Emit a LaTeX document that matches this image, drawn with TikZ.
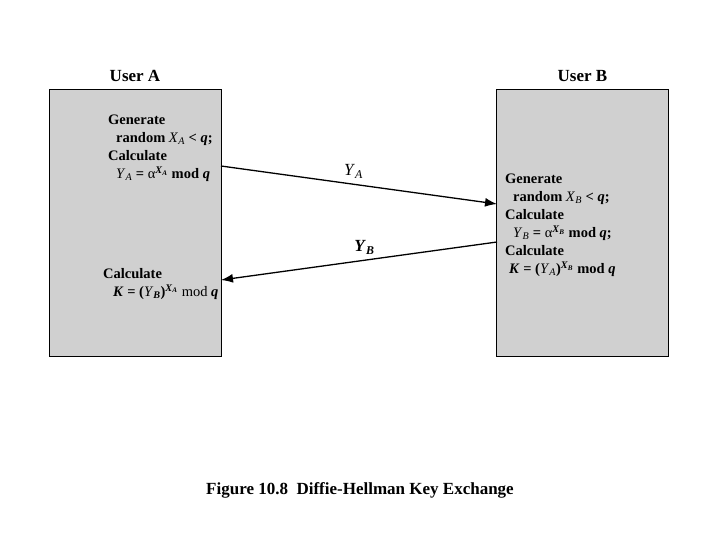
\documentclass[tikz,border=0pt]{standalone}
\usepackage{fontspec}
\setmainfont{Liberation Serif}
\usepackage{tikz}
\usetikzlibrary{arrows.meta,positioning}
\definecolor{dhgray}{HTML}{D0D0D0}
\newcommand{\itv}[2]{\textit{#1}\textsubscript{\textit{#2}}}
\newcommand{\plainv}[2]{{\mdseries\itv{#1}{#2}}}

\begin{document}
\begin{tikzpicture}[
  x=1pt,y=-1pt,
  user/.style={draw,line width=1pt,fill=dhgray,minimum width=172pt,minimum height=266pt,inner sep=0pt},
  head/.style={font=\fontsize{17}{20}\selectfont\bfseries},
  steps/.style={align=left,anchor=north west,inner sep=0pt,font=\fontsize{14.5}{18}\selectfont\bfseries},
  msg/.style={line width=1.3pt,-{Latex[length=12pt,width=9pt]}},
  lab/.style={font=\fontsize{17}{17}\selectfont}
]
\useasboundingbox (0,0) rectangle (720,540);
% the two parties
\node[user] (boxA) at (135,223) {};
\node[user] (boxB) at (582.5,223) {};
\node[head,above=4pt of boxA] (userA) {User A};
\node[head,above=4pt of boxB] (userB) {User B};

% what each one computes
\node[steps] (stepsA) at (108,115) {Generate\\
\hspace*{8pt}random \plainv{X}{A} < \textit{q};\\
Calculate\\
\hspace*{8pt}\plainv{Y}{A} = {\mdseries α}\textsuperscript{\itv{X}{A}} mod \textit{q}};
\node[steps] (keyA) at (103,268) {Calculate\\
\hspace*{10pt}\textit{K} = ({\mdseries\textit{Y}}\textsubscript{\textit{B}})\textsuperscript{\itv{X}{A}} {\mdseries mod} \textit{q}};
\node[steps] (stepsB) at (505,174) {Generate\\
\hspace*{8pt}random \plainv{X}{B} < \textit{q};\\
Calculate\\
\hspace*{8pt}\plainv{Y}{B} = {\mdseries α}\textsuperscript{\itv{X}{B}} mod \textit{q};\\
Calculate\\
\hspace*{4pt}\textit{K} = (\plainv{Y}{A})\textsuperscript{\itv{X}{B}} mod \textit{q}};

% exchanged values
\coordinate (outA) at (221,166);
\coordinate (inB) at (497,204);
\coordinate (outB) at (497,242);
\coordinate (inA) at (221,280);
\draw[msg] (outA) -- (inB) node[lab,pos=0.48,above=2pt] (labA) {\plainv{Y}{A}};
\draw[msg] (outB) -- (inA) node[lab,pos=0.48,above=2pt] (labB) {\textbf{\itv{Y}{B}}};

\node[head] (caption) at (360,490) {Figure 10.8\ \ Diffie-Hellman Key Exchange};
\end{tikzpicture}
\end{document}
